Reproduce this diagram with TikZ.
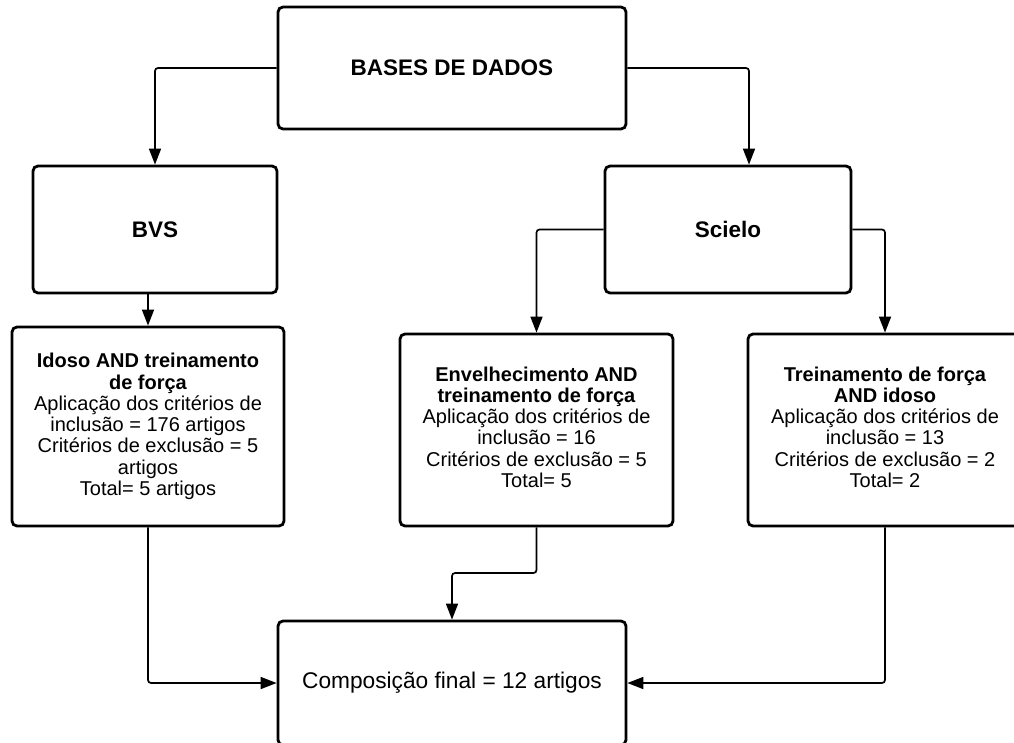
\documentclass[tikz,border=0pt]{standalone}
\usepackage{fontspec}
\setmainfont{Liberation Sans}
\usetikzlibrary{arrows.meta}
\tikzset{
  box/.style={draw=black, line width=2.8pt, rounded corners=5pt, fill=white,
    align=center, inner sep=0pt, anchor=center},
  headbox/.style={box, font=\fontsize{22.5}{24}\selectfont\bfseries},
  bodybox/.style={box, font=\fontsize{20}{21.3}\selectfont},
  conn/.style={draw=black, line width=1.7pt, rounded corners=3pt,
    -{Triangle[length=16pt,width=12pt]}},
}
\begin{document}
\begin{tikzpicture}[x=1pt,y=-1pt]
\useasboundingbox (0,0) rectangle (1014,742);
\node[headbox, minimum width=348pt, minimum height=122pt] (bases) at (452,68) {BASES DE DADOS};
\node[headbox, minimum width=244pt, minimum height=127pt] (bvs) at (155,229.5) {BVS};
\node[headbox, minimum width=246pt, minimum height=127pt] (scielo) at (728,229.5) {Scielo};
\node[bodybox, minimum width=272pt, minimum height=199pt] (b1) at (148,426.5)
  {\textbf{Idoso AND treinamento}\\\textbf{de força}\\Aplicação dos critérios de\\inclusão = 176 artigos\\Critérios de exclusão = 5\\artigos\\Total= 5 artigos};
\node[bodybox, minimum width=273pt, minimum height=192pt] (b2) at (536.5,430)
  {\raisebox{8pt}{\begin{tabular}{@{}c@{}}\textbf{Envelhecimento AND}\\\textbf{treinamento de força}\\Aplicação dos critérios de\\inclusão = 16\\Critérios de exclusão = 5\\Total= 5\end{tabular}}};
\node[bodybox, minimum width=274pt, minimum height=192pt] (b3) at (885,430)
  {\raisebox{8pt}{\begin{tabular}{@{}c@{}}\textbf{Treinamento de força}\\\textbf{AND idoso}\\Aplicação dos critérios de\\inclusão = 13\\Critérios de exclusão = 2\\Total= 2\end{tabular}}};
\node[box, font=\fontsize{22.7}{24}\selectfont, minimum width=348pt, minimum height=124pt] (final) at (452,683) {Composição final = 12 artigos};

\coordinate (basesR) at (749,68);
\coordinate (b2mid) at (536.5,573);
\coordinate (b2mid2) at (452,573);

\draw[conn] (bases.west) -| (bvs.north);
\draw[conn] (bases.east) -| (basesR |- scielo.north);
\draw[conn] (bvs.south -| b1.north) -- (b1.north);
\draw[conn] (scielo.west) -| (b2.north);
\draw[conn] (scielo.east) -| (b3.north);
\draw[conn] (b1.south) |- (final.west);
\draw[conn] (b2.south) -- (b2mid) -- (b2mid2) -- (final.north);
\draw[conn] (b3.south) |- (final.east);
\end{tikzpicture}
\end{document}
